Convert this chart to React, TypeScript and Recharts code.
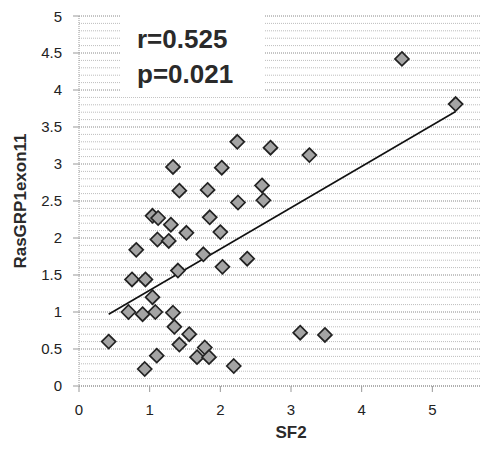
import React from "react";
import {
  ScatterChart,
  Scatter,
  XAxis,
  YAxis,
  CartesianGrid,
  ReferenceLine,
} from "recharts";

// SF2 (x) vs RasGRP1exon11 (y)
const sf2 = [
  0.42, 0.7, 0.75, 0.81, 0.9, 0.93, 0.94, 1.04, 1.04, 1.08, 1.1, 1.11, 1.12,
  1.27, 1.3, 1.33, 1.33, 1.35, 1.4, 1.42, 1.42, 1.52, 1.56, 1.67, 1.76, 1.78,
  1.82, 1.84, 1.85, 2.0, 2.02, 2.03, 2.19, 2.24, 2.25, 2.38, 2.59, 2.61, 2.71,
  3.13, 3.26, 3.48, 4.57, 5.33,
];
const rasGRP1 = [
  0.6, 1.0, 1.44, 1.84, 0.97, 0.23, 1.44, 1.2, 2.3, 1.0, 0.41, 1.98, 2.27,
  1.96, 2.18, 0.99, 2.96, 0.8, 1.56, 0.56, 2.64, 2.07, 0.7, 0.39, 1.78, 0.52,
  2.65, 0.39, 2.28, 2.08, 2.95, 1.61, 0.27, 3.3, 2.48, 1.72, 2.71, 2.51, 3.22,
  0.72, 3.12, 0.69, 4.42, 3.81,
];

// linear trend line end points
const trendX = [0.42, 5.33];
const trendY = [0.97, 3.71];

// axis runs to 6 but the scan is cropped before the "6" label
const xTicks = [0, 1, 2, 3, 4, 5];
const yTicks = [0, 0.5, 1, 1.5, 2, 2.5, 3, 3.5, 4, 4.5, 5];
// minor gridlines every 0.1
const yMinor = Array.from({ length: 51 }, (_, i) => i / 10).filter(
  (v) => Math.round(v * 10) % 5 !== 0
);

const points = sf2.map((x, i) => ({ x, y: rasGRP1[i] }));

const font = '"Liberation Sans", Arial, sans-serif';

const Diamond = (props: any) => {
  const { cx, cy } = props;
  const r = 7;
  return (
    <polygon
      points={`${cx},${cy - r} ${cx + r},${cy} ${cx},${cy + r} ${cx - r},${cy}`}
      fill="#a4a4a4"
      stroke="#222"
      strokeWidth={1.7}
    />
  );
};

const YTitle = (props: any) => {
  const { viewBox } = props;
  const x = 12;
  const y = viewBox.y + viewBox.height / 2;
  return (
    <text
      x={x}
      y={y}
      transform={`rotate(-90 ${x} ${y})`}
      textAnchor="middle"
      dominantBaseline="central"
      fontFamily={font}
      fontWeight="bold"
      fontSize={17}
      fill="#2a2a2a"
    >
      RasGRP1exon11
    </text>
  );
};

export default function App() {
  return (
    <div
      style={{
        position: "relative",
        width: 480,
        height: 436,
        overflow: "hidden",
        background: "#fff",
      }}
    >
      <ScatterChart
        width={520}
        height={436}
        margin={{ top: 8, right: 25, bottom: 0, left: 0 }}
      >
        <CartesianGrid
          vertical={false}
          stroke="#8a8a8a"
          strokeDasharray="1 1"
        />
        {yMinor.map((v) => (
          <ReferenceLine
            key={v}
            y={v}
            stroke="#bdbdbd"
            strokeDasharray="1 1"
          />
        ))}
        <XAxis
          type="number"
          dataKey="x"
          domain={[0, 6]}
          ticks={xTicks}
          height={58}
          tickSize={6}
          tickMargin={12}
          axisLine={{ stroke: "#999", strokeDasharray: "1 1" }}
          tickLine={{ stroke: "#999" }}
          tick={{ fontFamily: font, fontSize: 15, fill: "#222" }}
          label={{
            value: "SF2",
            position: "insideBottom",
            offset: 6,
            style: {
              fontFamily: font,
              fontWeight: "bold",
              fontSize: 17,
              fill: "#2a2a2a",
            },
          }}
        />
        <YAxis
          type="number"
          dataKey="y"
          domain={[0, 5]}
          ticks={yTicks}
          width={71}
          tickSize={6}
          tickMargin={11}
          axisLine={{ stroke: "#999", strokeDasharray: "1 1" }}
          tickLine={{ stroke: "#999" }}
          tick={{ fontFamily: font, fontSize: 15, fill: "#222" }}
          label={<YTitle />}
        />
        <ReferenceLine
          segment={[
            { x: trendX[0], y: trendY[0] },
            { x: trendX[1], y: trendY[1] },
          ]}
          stroke="#111"
          strokeWidth={1.6}
        />
        <Scatter data={points} shape={<Diamond />} isAnimationActive={false} />
      </ScatterChart>
      <div
        style={{
          position: "absolute",
          left: 112,
          top: 0,
          width: 145,
          height: 89,
          background: "#fff",
          fontFamily: font,
          fontWeight: "bold",
          fontSize: 26,
          color: "#2a2a2a",
          lineHeight: "35px",
          paddingLeft: 17,
          paddingTop: 14,
          boxSizing: "border-box",
        }}
      >
        <div>r=0.525</div>
        <div>p=0.021</div>
      </div>
    </div>
  );
}
